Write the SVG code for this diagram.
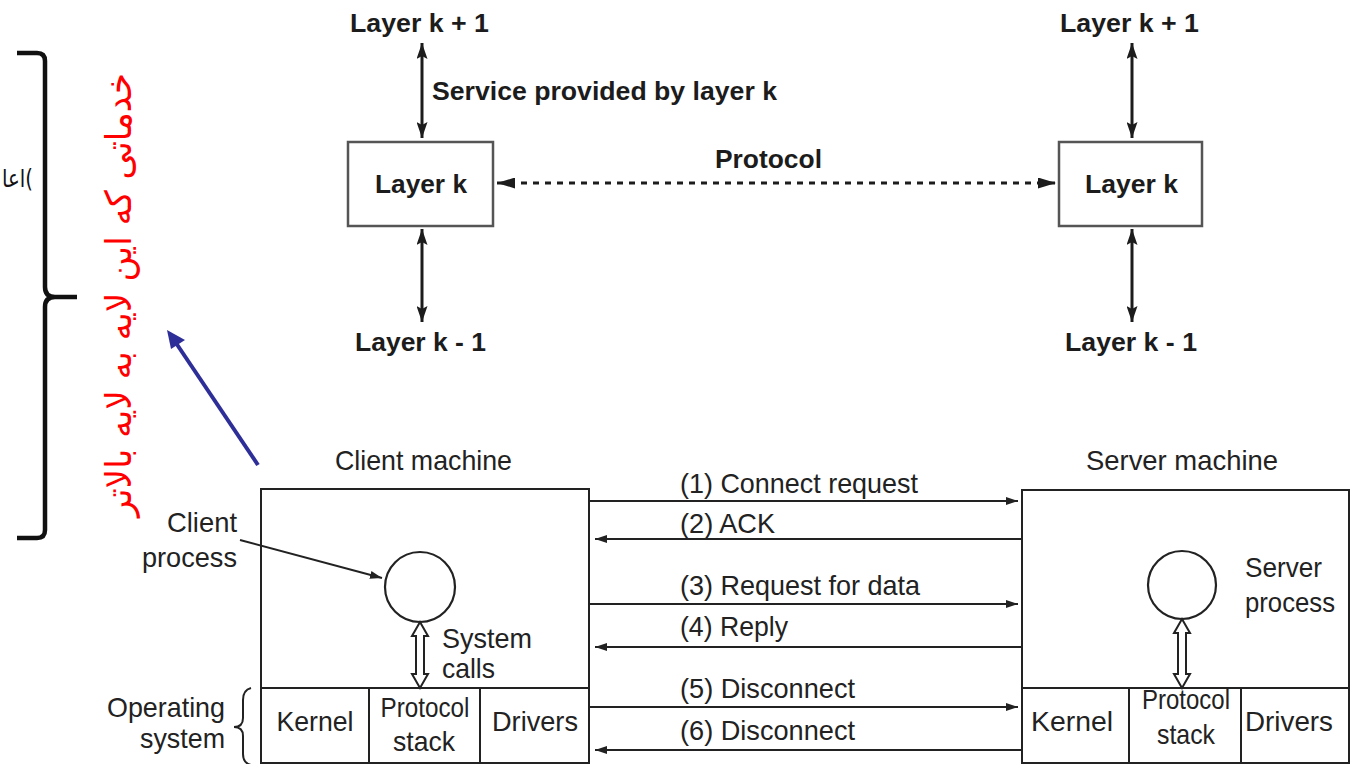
<svg xmlns="http://www.w3.org/2000/svg" width="1357" height="764" viewBox="0 0 1357 764">
  <defs>
    <style>
      .b { font-family: "Liberation Sans", Arial, sans-serif; font-weight: bold; font-size: 25px; fill: #1c1c1c; }
      .t { font-family: "Liberation Sans", Arial, sans-serif; font-size: 28px; fill: #222; }
      .fa { font-family: "DejaVu Sans", "Noto Sans", sans-serif; }
      .lbox { fill: #fff; stroke: #555; stroke-width: 2.5; }
      .mbox { fill: #fff; stroke: #222; stroke-width: 2; }
      .cell { stroke: #222; stroke-width: 2; fill: none; }
      .proc { fill: #fff; stroke: #222; stroke-width: 2.2; }
      .hollow { fill: #fff; stroke: #222; stroke-width: 2; stroke-linejoin: miter; }
      .svc { stroke: #1c1c1c; stroke-width: 3; fill: none; marker-start: url(#headL); marker-end: url(#headL); }
      .proto { stroke: #1c1c1c; stroke-width: 3; fill: none; stroke-dasharray: 6 6; marker-start: url(#headP); marker-end: url(#headP); }
      .msg { stroke: #222; stroke-width: 2; fill: none; marker-end: url(#headM); }
    </style>
    <marker id="headL" viewBox="0 0 16 11" refX="16" refY="5.5" markerWidth="16" markerHeight="11" markerUnits="userSpaceOnUse" orient="auto-start-reverse">
      <path d="M0,0 L16,5.5 L0,11 L3,5.5 z" fill="#1c1c1c"/>
    </marker>
    <marker id="headP" viewBox="0 0 18 11" refX="18" refY="5.5" markerWidth="18" markerHeight="11" markerUnits="userSpaceOnUse" orient="auto-start-reverse">
      <path d="M0,0 L18,5.5 L0,11 z" fill="#1c1c1c"/>
    </marker>
    <marker id="headM" viewBox="0 0 12 8" refX="12" refY="4" markerWidth="12" markerHeight="8" markerUnits="userSpaceOnUse" orient="auto">
      <path d="M0,0 L12,4 L0,8 z" fill="#222"/>
    </marker>
    <marker id="headS" viewBox="0 0 12 8" refX="12" refY="4" markerWidth="12" markerHeight="8" markerUnits="userSpaceOnUse" orient="auto">
      <path d="M0,0 L12,4 L0,8 z" fill="#222"/>
    </marker>
  </defs>

  <rect width="1357" height="764" fill="#fff"/>

  <!-- side annotation: large brace, partial note and red vertical caption -->
  <g id="annotation">
    <path d="M17,53 H37 Q45,53 45,61 V287 Q45,297 55,297 H77 M55,297 Q45,297 45,307 V530 Q45,538 37,538 H17" fill="none" stroke="#111" stroke-width="4.5"/>
    <text class="fa" x="2" y="187" font-size="24" fill="#111" textLength="31" lengthAdjust="spacingAndGlyphs">اعا(</text>
    <text class="fa" transform="translate(131,295) rotate(-90)" x="0" y="0" font-size="36" fill="#ff0000" text-anchor="middle" direction="rtl" textLength="444" lengthAdjust="spacingAndGlyphs">خدماتی که این لایه به لایه بالاتر</text>
  </g>

  <!-- layer k (left) -->
  <g id="layer-left">
    <text class="b" x="350" y="32" textLength="139" lengthAdjust="spacingAndGlyphs">Layer k + 1</text>
    <rect class="lbox" x="348" y="142" width="145" height="84"/>
    <text class="b" x="375" y="193" textLength="92" lengthAdjust="spacingAndGlyphs">Layer k</text>
    <text class="b" x="355" y="351" textLength="131" lengthAdjust="spacingAndGlyphs">Layer k - 1</text>
    <text class="b" x="432" y="100" textLength="345" lengthAdjust="spacingAndGlyphs">Service provided by layer k</text>
  </g>

  <!-- layer k (right) -->
  <g id="layer-right">
    <text class="b" x="1060" y="32" textLength="139" lengthAdjust="spacingAndGlyphs">Layer k + 1</text>
    <rect class="lbox" x="1059" y="142" width="143" height="84"/>
    <text class="b" x="1085" y="193" textLength="93" lengthAdjust="spacingAndGlyphs">Layer k</text>
    <text class="b" x="1065" y="351" textLength="132" lengthAdjust="spacingAndGlyphs">Layer k - 1</text>
  </g>

  <text class="b" x="715" y="168" textLength="107" lengthAdjust="spacingAndGlyphs">Protocol</text>

  <!-- client machine -->
  <g id="client">
    <text class="t" x="335" y="470" textLength="177" lengthAdjust="spacingAndGlyphs">Client machine</text>
    <rect class="mbox" x="261" y="489" width="328" height="274"/>
    <path class="cell" d="M261,688 H589 M369,688 V763 M480,688 V763"/>
    <circle class="proc" cx="420" cy="587" r="35"/>
    <polygon class="hollow" points="420,622 428,636 424,636 424,674 428,674 420,688 412,674 416,674 416,636 412,636"/>
    <text class="t" x="442" y="648" textLength="90" lengthAdjust="spacingAndGlyphs">System</text>
    <text class="t" x="442" y="678" textLength="53" lengthAdjust="spacingAndGlyphs">calls</text>
    <text class="t" x="237" y="532" text-anchor="end" textLength="70" lengthAdjust="spacingAndGlyphs">Client</text>
    <text class="t" x="237" y="567" text-anchor="end" textLength="95" lengthAdjust="spacingAndGlyphs">process</text>
    <text class="t" x="225" y="717" text-anchor="end" textLength="118" lengthAdjust="spacingAndGlyphs">Operating</text>
    <text class="t" x="225" y="748" text-anchor="end" textLength="85" lengthAdjust="spacingAndGlyphs">system</text>
    <path d="M251,688 Q243,690 243,700 V718 Q243,727 234,727 Q243,727 243,736 V754 Q243,763 251,765" fill="none" stroke="#222" stroke-width="2"/>
    <text class="t" x="315" y="731" text-anchor="middle" textLength="77" lengthAdjust="spacingAndGlyphs">Kernel</text>
    <text class="t" x="425" y="717" text-anchor="middle" textLength="89" lengthAdjust="spacingAndGlyphs">Protocol</text>
    <text class="t" x="424" y="751" text-anchor="middle" textLength="62" lengthAdjust="spacingAndGlyphs">stack</text>
    <text class="t" x="535" y="731" text-anchor="middle" textLength="86" lengthAdjust="spacingAndGlyphs">Drivers</text>
  </g>

  <!-- server machine -->
  <g id="server">
    <text class="t" x="1086" y="470" textLength="192" lengthAdjust="spacingAndGlyphs">Server machine</text>
    <rect class="mbox" x="1022" y="490" width="327" height="273"/>
    <path class="cell" d="M1022,688 H1349 M1129,688 V763 M1241,688 V763"/>
    <circle class="proc" cx="1182" cy="585" r="34"/>
    <polygon class="hollow" points="1182,619 1190,633 1186,633 1186,674 1190,674 1182,688 1174,674 1178,674 1178,633 1174,633"/>
    <text class="t" x="1245" y="577" textLength="77" lengthAdjust="spacingAndGlyphs">Server</text>
    <text class="t" x="1245" y="612" textLength="90" lengthAdjust="spacingAndGlyphs">process</text>
    <text class="t" x="1072" y="731" text-anchor="middle" textLength="82" lengthAdjust="spacingAndGlyphs">Kernel</text>
    <text class="t" x="1186" y="709" text-anchor="middle" font-size="24" textLength="88" lengthAdjust="spacingAndGlyphs">Protocol</text>
    <text class="t" x="1186" y="744" text-anchor="middle" font-size="26" textLength="58" lengthAdjust="spacingAndGlyphs">stack</text>
    <text class="t" x="1289" y="731" text-anchor="middle" textLength="88" lengthAdjust="spacingAndGlyphs">Drivers</text>
  </g>

  <!-- connectors -->
  <g id="connectors">
    <line class="svc" x1="422" y1="43" x2="422" y2="138"/>
    <line class="svc" x1="422" y1="229" x2="422" y2="322"/>
    <line class="svc" x1="1132" y1="43" x2="1132" y2="138"/>
    <line class="svc" x1="1132" y1="229" x2="1132" y2="322"/>
    <line class="proto" x1="497" y1="183" x2="1056" y2="183"/>

    <line x1="240" y1="540" x2="382" y2="578" stroke="#222" stroke-width="2" marker-end="url(#headS)"/>

    <line class="msg" x1="589" y1="501" x2="1018" y2="501"/>
    <line class="msg" x1="1022" y1="539" x2="595" y2="539"/>
    <line class="msg" x1="589" y1="604" x2="1018" y2="604"/>
    <line class="msg" x1="1022" y1="647" x2="595" y2="647"/>
    <line class="msg" x1="589" y1="707" x2="1018" y2="707"/>
    <line class="msg" x1="1022" y1="750" x2="595" y2="750"/>

    <line x1="258" y1="465" x2="176" y2="343" stroke="#2e2e98" stroke-width="4"/>
    <polygon points="167,330 185,340 171,349" fill="#2e2e98"/>
  </g>

  <!-- message labels -->
  <g id="messages">
    <text class="t" x="680" y="493" textLength="238" lengthAdjust="spacingAndGlyphs">(1) Connect request</text>
    <text class="t" x="680" y="533" textLength="95" lengthAdjust="spacingAndGlyphs">(2) ACK</text>
    <text class="t" x="680" y="595" textLength="240" lengthAdjust="spacingAndGlyphs">(3) Request for data</text>
    <text class="t" x="680" y="636" textLength="108" lengthAdjust="spacingAndGlyphs">(4) Reply</text>
    <text class="t" x="680" y="698" textLength="175" lengthAdjust="spacingAndGlyphs">(5) Disconnect</text>
    <text class="t" x="680" y="740" textLength="175" lengthAdjust="spacingAndGlyphs">(6) Disconnect</text>
  </g>
</svg>
